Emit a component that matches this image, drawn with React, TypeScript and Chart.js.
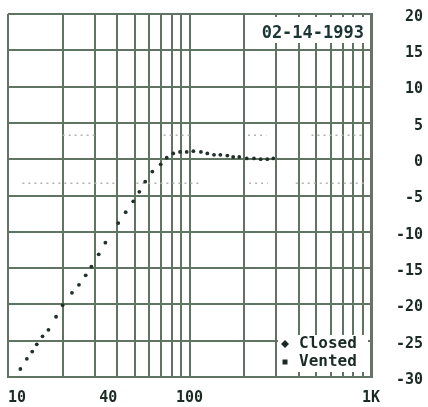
import React, { useEffect, useRef } from 'react';
import { Chart, registerables } from 'chart.js';
Chart.register(...registerables);

// Frequency response points (Hz, dB)
const freqHz = [11.7, 12.7, 13.6, 14.4, 15.5, 16.7, 18.4, 20.0, 22.5, 24.6, 26.8, 28.8, 31.6, 34.4, 40.5, 44.5, 49.0, 52.9, 57.0, 62.4, 69.4, 74.9, 81.4, 88.7, 96.5, 105, 115.6, 125.4, 136.5, 147.9, 161.6, 174, 188, 206.7, 226.6, 246.7, 268.3, 289.5];
const closedDb = [-28.9, -27.5, -26.5, -25.5, -24.4, -23.5, -21.7, -20.1, -18.4, -17.3, -16.0, -14.8, -13.1, -11.5, -8.8, -7.3, -5.8, -4.5, -3.1, -1.7, -0.7, 0.2, 0.8, 1.0, 1.0, 1.1, 1.0, 0.8, 0.6, 0.6, 0.5, 0.3, 0.3, 0.1, 0.1, 0.0, 0.0, 0.1];
const ventedDb: number[] = [];

// Tolerance reference marks (dB level and visible frequency spans)
const plusTolDb = 3.3;
const minusTolDb = -3.3;
const plusTolSpans = [[20, 31], [72, 105], [210, 265], [470, 900]];
const minusTolSpans = [[12, 39], [51, 114], [213, 270], [385, 915]];

// Axes
const xGridHz = [10, 20, 30, 40, 50, 60, 70, 80, 90, 100, 200, 300, 400, 500, 600, 700, 800, 900, 1000];
const xLabelValues = [10, 40, 100, 1000];
const xLabelTexts = ['  10', '40  ', '100', '1K'];
const yMin = -30;
const yMax = 20;
const yStep = 5;

const dateText = '02-14-1993';
const seriesNames = ['Closed', 'Vented'];

const GRID = '#5f7463';
const INK = '#1c2a24';
const MONO = '"DejaVu Sans Mono", "Liberation Mono", monospace';

function spansToData(spans: number[][], level: number) {
  const out: { x: number; y: number | null }[] = [];
  spans.forEach((s, i) => {
    out.push({ x: s[0], y: level });
    out.push({ x: s[1], y: level });
    if (i < spans.length - 1) out.push({ x: (s[1] + spans[i + 1][0]) / 2, y: null });
  });
  return out;
}

function zeroPad(s: any) {
  s.paddingLeft = 0;
  s.paddingRight = 0;
  s.paddingTop = 0;
  s.paddingBottom = 0;
}

const overlayPlugin = {
  id: 'overlay',
  afterDraw(chart: any) {
    const ctx = chart.ctx;
    const ca = chart.chartArea;
    ctx.save();
    // date box
    ctx.fillStyle = '#ffffff';
    ctx.fillRect(ca.right - 123, ca.top + 3, 121, 26);
    ctx.fillStyle = '#1c3434';
    ctx.font = 'bold 17px ' + MONO;
    ctx.textAlign = 'right';
    ctx.textBaseline = 'middle';
    ctx.fillText(dateText, ca.right - 7, ca.top + 20);

    // legend box
    const boxRight = ca.right - 3;
    const bottom = ca.bottom - 5;
    const textLeft = boxRight - 69;
    ctx.fillStyle = '#ffffff';
    ctx.fillRect(textLeft - 21, bottom - 37, boxRight - textLeft + 21, 37);
    ctx.font = 'bold 16px ' + MONO;
    ctx.textAlign = 'left';
    ctx.textBaseline = 'middle';
    seriesNames.forEach((name, i) => {
      const cy = bottom - 28 + i * 18;
      const mx = textLeft - 14;
      ctx.fillStyle = INK;
      if (i === 0) {
        ctx.beginPath();
        ctx.moveTo(mx, cy - 4);
        ctx.lineTo(mx + 4, cy);
        ctx.lineTo(mx, cy + 4);
        ctx.lineTo(mx - 4, cy);
        ctx.closePath();
        ctx.fill();
      } else {
        ctx.fillRect(mx - 2.5, cy - 2.5, 5, 5);
      }
      ctx.fillText(name, textLeft, cy);
    });
    ctx.restore();
  },
};

export default function App() {
  const ref = useRef<HTMLCanvasElement | null>(null);
  useEffect(() => {
    if (!ref.current) return;
    const chart = new Chart(ref.current, {
      type: 'scatter',
      data: {
        datasets: [
          {
            label: seriesNames[0],
            data: freqHz.map((f, i) => ({ x: f, y: closedDb[i] })),
            pointStyle: 'circle',
            pointRadius: 1.9,
            pointBackgroundColor: '#22302a',
            pointBorderWidth: 0,
            showLine: false,
            order: 0,
          },
          {
            label: seriesNames[1],
            data: ventedDb.map((v, i) => ({ x: freqHz[i], y: v })),
            pointStyle: 'rect',
            pointRadius: 2,
            pointBackgroundColor: '#22302a',
            showLine: false,
            order: 1,
          },
          {
            label: '+3',
            data: spansToData(plusTolSpans, plusTolDb) as any,
            showLine: true,
            pointRadius: 0,
            borderColor: '#aeb4ae',
            borderWidth: 1.5,
            borderDash: [2, 4],
            spanGaps: false,
            order: 2,
          },
          {
            label: '-3',
            data: spansToData(minusTolSpans, minusTolDb) as any,
            showLine: true,
            pointRadius: 0,
            borderColor: '#aeb4ae',
            borderWidth: 1.5,
            borderDash: [2, 4],
            spanGaps: false,
            order: 3,
          },
        ],
      },
      options: {
        animation: false,
        responsive: false,
        devicePixelRatio: 1,
        layout: { padding: { left: 8, top: 14, right: 5, bottom: 0 } },
        plugins: { legend: { display: false }, tooltip: { enabled: false } },
        scales: {
          x: {
            type: 'logarithmic',
            min: 10,
            max: 1000,
            afterBuildTicks: (s: any) => {
              s.ticks = xGridHz.map((v) => ({ value: v }));
            },
            afterFit: (s: any) => {
              s.height = 30;
              zeroPad(s);
            },
            grid: { color: GRID, lineWidth: 2, drawTicks: false },
            border: { color: GRID, width: 2 },
            ticks: {
              autoSkip: false,
              maxRotation: 0,
              padding: 12,
              color: INK,
              font: { family: MONO, size: 15, weight: 'bold' },
              callback: (v: any) => {
                const idx = xLabelValues.indexOf(Number(v));
                return idx >= 0 ? xLabelTexts[idx] : '';
              },
            },
          },
          y: {
            position: 'right',
            min: yMin,
            max: yMax,
            afterFit: (s: any) => {
              s.width = 52;
              zeroPad(s);
            },
            grid: { color: GRID, lineWidth: 2, drawTicks: false },
            border: { color: '#6a706a', width: 3 },
            ticks: {
              stepSize: yStep,
              crossAlign: 'far',
              padding: 25,
              color: INK,
              font: { family: MONO, size: 15, weight: 'bold', lineHeight: 0.4 },
              callback: (v: any) => ['', String(v)],
            },
          },
        },
      },
      plugins: [overlayPlugin],
    } as any);
    return () => chart.destroy();
  }, []);
  return (
    <div style={{ position: 'absolute', left: 0, top: 0, width: 428, height: 407 }}>
      <canvas ref={ref} width={428} height={407} />
    </div>
  );
}
